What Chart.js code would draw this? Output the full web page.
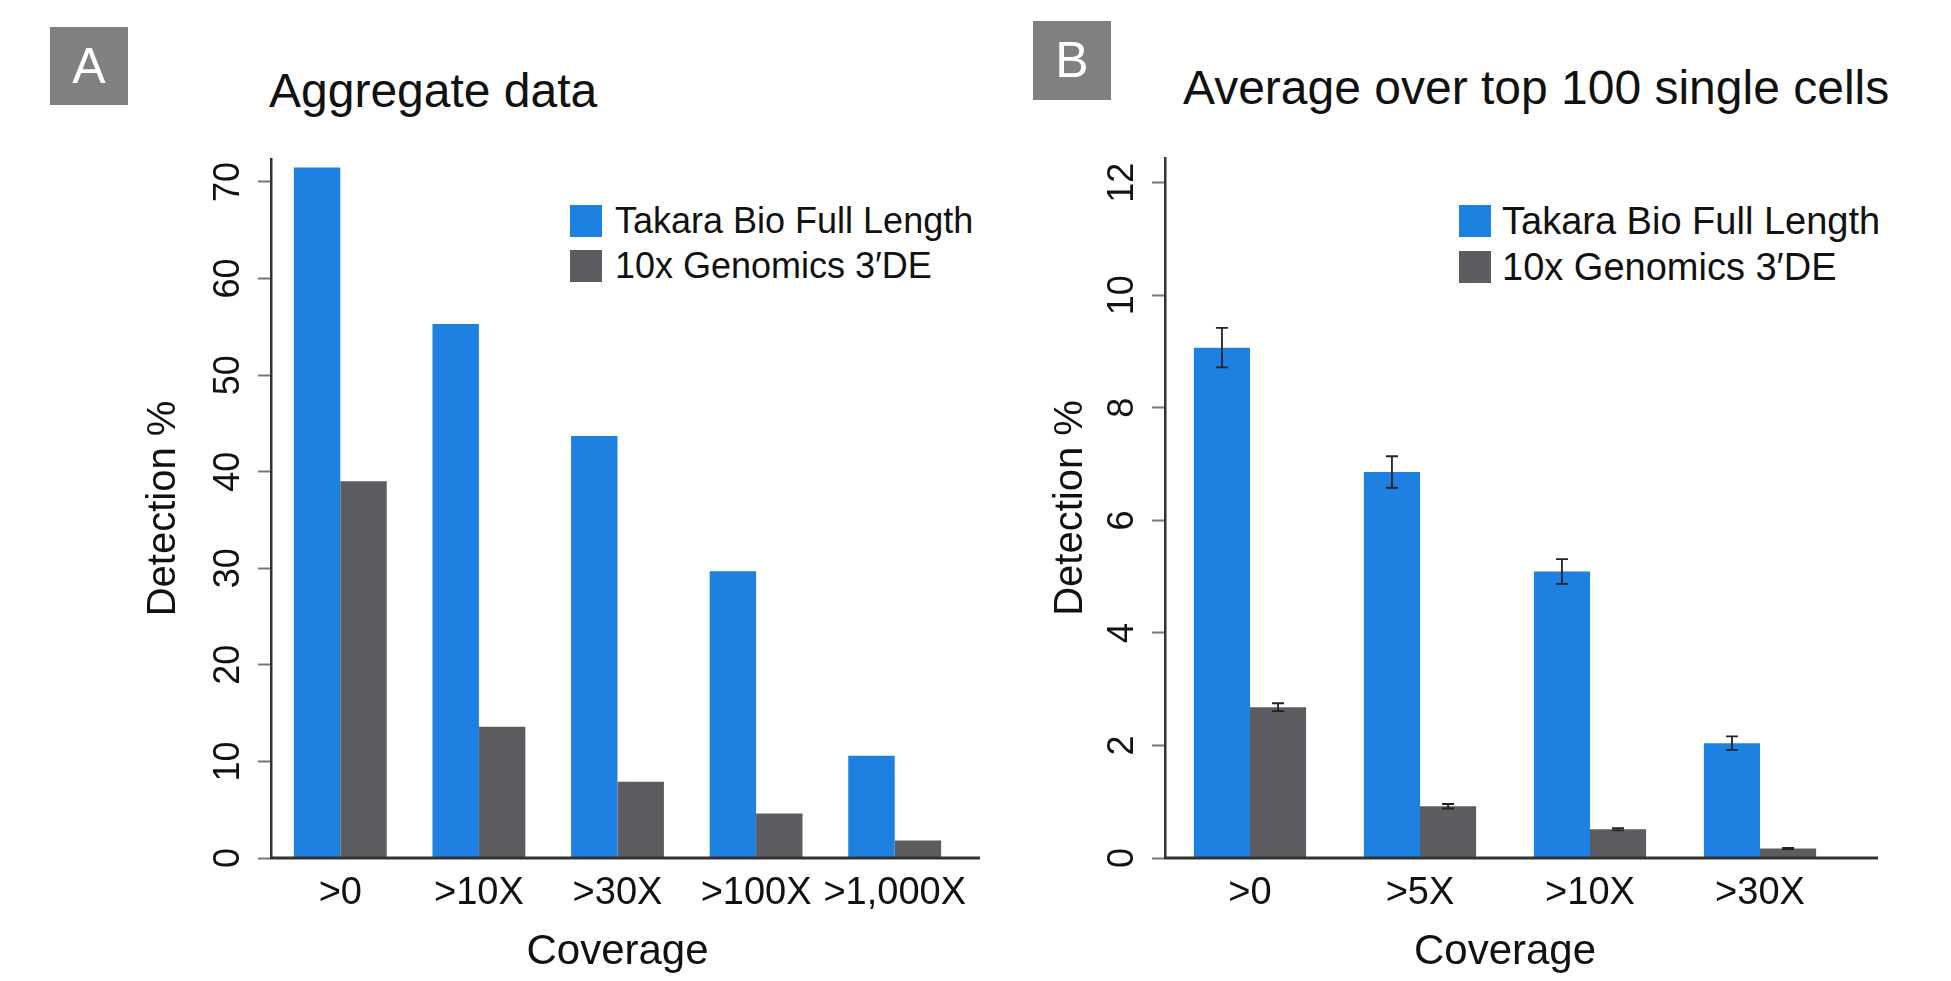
<!DOCTYPE html>
<html>
<head>
<meta charset="utf-8">
<script src="https://cdn.jsdelivr.net/npm/chart.js@4/dist/chart.umd.min.js"></script>
<style>
  body { margin: 0; background: #fff; width: 1951px; height: 981px; overflow: hidden; position: relative;
         font-family: "Liberation Sans", Arial, sans-serif; }
  canvas { position: absolute; top: 0; }
  #chartA { left: 0; }
  #chartB { left: 1000px; }
  .tag { position: absolute; background: #808080; color: #fff; font-size: 50px; text-align: center; }
  .title { position: absolute; font-size: 48px; line-height: 48px; color: #111; white-space: nowrap; }
  .legend { position: absolute; color: #111; }
  .legend .row { display: flex; align-items: center; white-space: nowrap; }
  .legend .box { width: 32px; height: 32px; flex: none; }
</style>
</head>
<body>
<div class="tag" style="left:50px;top:27px;width:78px;height:78px;line-height:78px">A</div>
<div class="tag" style="left:1033px;top:21px;width:78px;height:79px;line-height:79px">B</div>
<div class="title" style="left:269px;top:67px">Aggregate data</div>
<div class="title" style="left:1183px;top:64px">Average over top 100 single cells</div>
<div class="legend" id="legendA" style="left:570px;top:198px;font-size:36px"></div>
<div class="legend" id="legendB" style="left:1459px;top:198px;font-size:38px"></div>
<canvas id="chartA" width="1000" height="981"></canvas>
<canvas id="chartB" width="951" height="981"></canvas>
<script>
// panel A: aggregate data
const categoriesA = ['>0', '>10X', '>30X', '>100X', '>1,000X'];
const takaraA = [71.5, 55.3, 43.7, 29.7, 10.6];
const tenxA = [39.0, 13.6, 7.9, 4.6, 1.8];
const ticksA = [0, 10, 20, 30, 40, 50, 60, 70];

// panel B: average over top 100 single cells
const categoriesB = ['>0', '>5X', '>10X', '>30X'];
const takaraB = [9.07, 6.86, 5.09, 2.04];
const tenxB = [2.68, 0.92, 0.51, 0.17];
const takaraErrB = [0.35, 0.28, 0.22, 0.12];
const tenxErrB = [0.07, 0.04, 0.02, 0.01];
const ticksB = [0, 2, 4, 6, 8, 10, 12];

const seriesNames = ['Takara Bio Full Length', '10x Genomics 3\u2032DE'];
const seriesColors = ['#1e80e0', '#5c5d60'];

const FONT = '"Liberation Sans", Arial, sans-serif';

function buildLegend(id, rowHeight, gap) {
    const el = document.getElementById(id);
    seriesNames.forEach((name, i) => {
        const row = document.createElement('div');
        row.className = 'row';
        row.style.height = rowHeight + 'px';
        const box = document.createElement('span');
        box.className = 'box';
        box.style.background = seriesColors[i];
        box.style.marginRight = gap + 'px';
        const txt = document.createElement('span');
        txt.textContent = name;
        row.appendChild(box);
        row.appendChild(txt);
        el.appendChild(row);
    });
}
buildLegend('legendA', 45, 13);
buildLegend('legendB', 46, 11);

// y tick labels are rotated, reading bottom to top
const rotatedYTicks = {
    id: 'rotatedYTicks',
    afterDraw(chart) {
        const y = chart.scales.y;
        const ctx = chart.ctx;
        ctx.save();
        ctx.font = '36px ' + FONT;
        ctx.fillStyle = '#111';
        ctx.textAlign = 'center';
        ctx.textBaseline = 'alphabetic';
        y.ticks.forEach((t, i) => {
            ctx.save();
            ctx.translate(chart.chartArea.left - 32, y.getPixelForTick(i));
            ctx.rotate(-Math.PI / 2);
            ctx.fillText(String(t.value), 0, 0);
            ctx.restore();
        });
        ctx.restore();
    }
};

// x baseline runs a bit past the last group
const baseLine = {
    id: 'baseLine',
    afterDatasetsDraw(chart, args, opts) {
        const {ctx, chartArea} = chart;
        ctx.save();
        ctx.strokeStyle = '#333';
        ctx.lineWidth = 3;
        ctx.beginPath();
        ctx.moveTo(chartArea.left - 1, chartArea.bottom);
        ctx.lineTo(chartArea.right + opts.extend, chartArea.bottom);
        ctx.stroke();
        ctx.restore();
    }
};

const errorBars = {
    id: 'errorBars',
    afterDatasetsDraw(chart) {
        const ctx = chart.ctx;
        const y = chart.scales.y;
        ctx.save();
        ctx.strokeStyle = '#222';
        ctx.lineWidth = 1.8;
        chart.data.datasets.forEach((ds, di) => {
            if (!ds.errors) return;
            chart.getDatasetMeta(di).data.forEach((bar, i) => {
                const top = y.getPixelForValue(ds.data[i] + ds.errors[i]);
                const bot = y.getPixelForValue(ds.data[i] - ds.errors[i]);
                ctx.beginPath();
                ctx.moveTo(bar.x, top); ctx.lineTo(bar.x, bot);
                ctx.moveTo(bar.x - 6, top); ctx.lineTo(bar.x + 6, top);
                ctx.moveTo(bar.x - 6, bot); ctx.lineTo(bar.x + 6, bot);
                ctx.stroke();
            });
        });
        ctx.restore();
    }
};

function makeChart(id, p) {
    const datasets = p.series.map((data, i) => ({
        label: seriesNames[i],
        data: data,
        errors: p.errors ? p.errors[i] : undefined,
        backgroundColor: seriesColors[i],
        borderWidth: 0,
        categoryPercentage: p.catPct,
        barPercentage: 1.0
    }));
    return new Chart(document.getElementById(id), {
        type: 'bar',
        data: { labels: p.labels, datasets: datasets },
        options: {
            responsive: false,
            animation: false,
            devicePixelRatio: 1,
            layout: { padding: p.padding },
            plugins: {
                legend: { display: false },
                tooltip: { enabled: false },
                baseLine: { extend: p.extend }
            },
            scales: {
                x: {
                    grid: { display: false, drawTicks: false },
                    border: { display: false },
                    ticks: { color: '#111', font: { family: FONT, size: 38 }, padding: 13,
                             maxRotation: 0, autoSkip: false },
                    title: { display: true, text: 'Coverage', color: '#111',
                             font: { family: FONT, size: 42 }, padding: 0 },
                    afterFit: s => { s.height = 120; }
                },
                y: {
                    min: 0,
                    max: p.max,
                    afterBuildTicks: s => { s.ticks = p.ticks.map(v => ({ value: v })); },
                    grid: { drawOnChartArea: false, drawTicks: true, tickLength: 13,
                            tickColor: '#777', tickWidth: 2 },
                    border: { display: true, color: '#333', width: 2.5 },
                    ticks: { display: false },
                    title: { display: true, text: 'Detection %', color: '#111',
                             font: { family: FONT, size: 40 }, padding: 0 },
                    afterFit: s => { s.width = p.yWidth; }
                }
            }
        },
        plugins: [rotatedYTicks, baseLine, errorBars]
    });
}

makeChart('chartA', {
    labels: categoriesA,
    series: [takaraA, tenxA],
    ticks: ticksA,
    max: 72.38,
    catPct: 0.67,
    padding: { left: 140, top: 159, right: 36, bottom: 3 },
    yWidth: 131,
    extend: 16
});

makeChart('chartB', {
    labels: categoriesB,
    series: [takaraB, tenxB],
    errors: [takaraErrB, tenxErrB],
    ticks: ticksB,
    max: 12.44,
    catPct: 0.66,
    padding: { left: 47, top: 158, right: 106, bottom: 3 },
    yWidth: 118,
    extend: 33
});
</script>
</body>
</html>
